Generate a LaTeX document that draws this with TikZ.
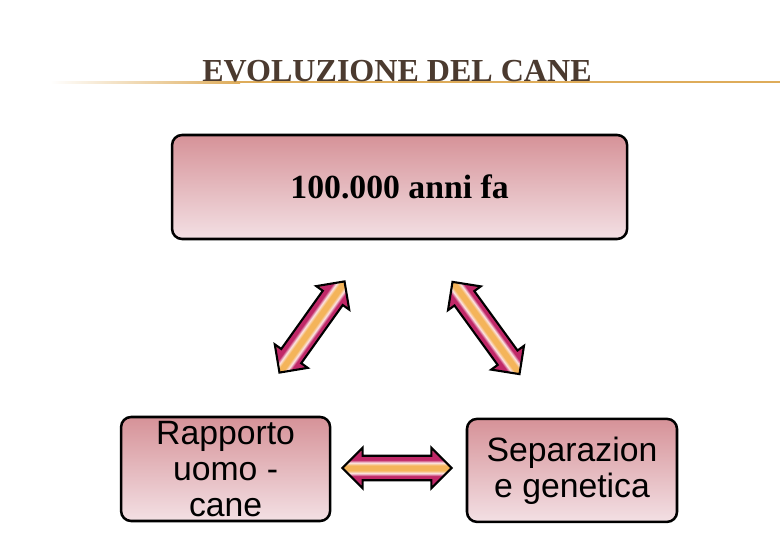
\documentclass[tikz,border=0pt]{standalone}
\usepackage{fontspec}
\setmainfont{Liberation Serif}
\newfontfamily\arialfont{Liberation Sans}
\usetikzlibrary{shapes.arrows}
\definecolor{titlebrown}{RGB}{75,58,47}
\definecolor{rulegold}{RGB}{222,172,90}
\definecolor{boxtop}{RGB}{214,146,152}
\definecolor{boxbottom}{RGB}{243,224,228}
\definecolor{arrowedge}{RGB}{192,40,104}
\definecolor{arrowtan}{RGB}{214,128,100}
\definecolor{arrowlight}{RGB}{252,228,228}
\definecolor{arrowmid}{RGB}{244,180,90}
\pgfdeclareverticalshading{fatshade}{100bp}{color(0bp)=(arrowtan); color(25bp)=(arrowtan); color(31bp)=(arrowedge); color(40bp)=(arrowedge); color(43.5bp)=(arrowlight); color(47bp)=(arrowmid); color(53bp)=(arrowmid); color(56.5bp)=(arrowlight); color(60bp)=(arrowedge); color(69bp)=(arrowedge); color(75bp)=(arrowtan); color(100bp)=(arrowtan)}
\begin{document}
\begin{tikzpicture}[
	box/.style={draw=black, line width=1.8pt, rounded corners=0.25cm, top color=boxtop, bottom color=boxbottom, align=center, inner sep=0pt},
	fatarrow/.style={double arrow, draw=black, line width=1.5pt, inner xsep=0pt, inner ysep=0.28cm, minimum width=0pt, double arrow head extend=0.2cm, shading=fatshade}]
	\useasboundingbox (0,0) rectangle (19.5,13.5);
	\shade[left color=white, right color=rulegold] (1.25,11.42) rectangle (6,11.47);
	\fill[rulegold] (6,11.42) rectangle (19.5,11.47);
	\node[anchor=base, text=titlebrown, font=\fontsize{22.8}{26}\selectfont\bfseries] (title) at (9.925,11.46) {EVOLUZIONE DEL CANE};
	\node[box, minimum width=11.375cm, minimum height=2.6cm, font=\fontsize{24}{26}\selectfont\bfseries] (epoch) at (9.99,8.825) {100.000 anni fa};
	\node[box, minimum width=5.225cm, minimum height=2.6cm, font=\arialfont\fontsize{24}{25.5}\selectfont] (bond) at (5.64,1.775) {Rapporto\\uomo -\\cane};
	\node[box, minimum width=5.25cm, minimum height=2.575cm, font=\arialfont\fontsize{24}{25.5}\selectfont] (split) at (14.3,1.74) {Separazion\\e genetica};
	\begin{scope}[transform canvas={rotate around={54.5:(7.8,5.325)}}]
		\node[fatarrow, minimum height=2.8cm] (a1) at (7.8,5.325) {};
	\end{scope}
	\begin{scope}[transform canvas={rotate around={-54:(12.15,5.3)}}]
		\node[fatarrow, minimum height=2.85cm] (a2) at (12.15,5.3) {};
	\end{scope}
	\node[fatarrow, minimum height=2.73cm] (a3) at (9.925,1.8) {};
\end{tikzpicture}
\end{document}
